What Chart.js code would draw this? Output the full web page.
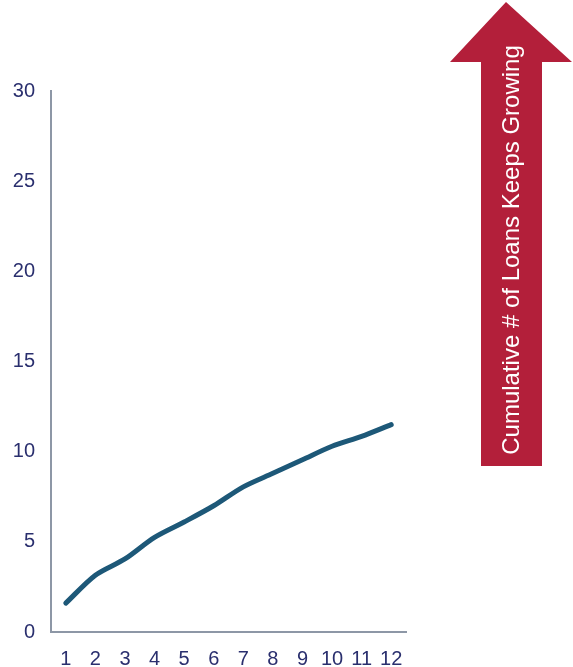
<!DOCTYPE html>
<html>
<head>
<meta charset="utf-8">
<script src="https://cdn.jsdelivr.net/npm/chart.js@4/dist/chart.umd.min.js"></script>
<style>
  html, body { margin: 0; padding: 0; background: #fff; }
  #wrap { width: 573px; height: 667px; position: relative; }
</style>
</head>
<body>
<div id="wrap"><canvas id="loansChart"></canvas></div>
<script>
// months since start and cumulative loan count
const months = ['1', '2', '3', '4', '5', '6', '7', '8', '9', '10', '11', '12'];
const cumulativeLoans = [1.6, 3.15, 4.05, 5.25, 6.1, 7.0, 8.05, 8.8, 9.55, 10.3, 10.85, 11.5];
const arrowLabel = 'Cumulative # of Loans Keeps Growing';

const navy = '#2a2f6e';
const axisGray = '#8d97a6';
const lineBlue = '#1d5878';
const arrowRed = '#b31f3a';
const fontFamily = '"Liberation Sans", Arial, sans-serif';

// big red arrow on the right with rotated caption
const arrowPlugin = {
    id: 'growthArrow',
    afterDraw(chart) {
        const ctx = chart.ctx;
        ctx.save();
        ctx.fillStyle = arrowRed;
        ctx.beginPath();
        ctx.moveTo(506, 2);
        ctx.lineTo(572, 62);
        ctx.lineTo(542, 62);
        ctx.lineTo(542, 466);
        ctx.lineTo(481, 466);
        ctx.lineTo(481, 62);
        ctx.lineTo(450, 62);
        ctx.closePath();
        ctx.fill();

        ctx.translate(512, 250);
        ctx.rotate(-Math.PI / 2);
        ctx.fillStyle = '#ffffff';
        ctx.font = '24px ' + fontFamily;
        ctx.textAlign = 'center';
        ctx.textBaseline = 'middle';
        ctx.fillText(arrowLabel, 0, 0);
        ctx.restore();
    }
};

const ctx = document.getElementById('loansChart').getContext('2d');
new Chart(ctx, {
    type: 'line',
    data: {
        labels: months,
        datasets: [{
            data: cumulativeLoans,
            borderColor: lineBlue,
            borderWidth: 5,
            borderCapStyle: 'round',
            tension: 0.3,
            pointRadius: 0,
            fill: false
        }]
    },
    options: {
        responsive: true,
        maintainAspectRatio: false,
        animation: false,
        layout: {
            padding: { top: 91, right: 167, left: 0, bottom: 0 }
        },
        plugins: {
            legend: { display: false },
            tooltip: { enabled: false }
        },
        scales: {
            x: {
                offset: true,
                grid: { display: false, drawTicks: false },
                border: { color: axisGray, width: 2 },
                ticks: {
                    color: navy,
                    padding: 15,
                    maxRotation: 0,
                    autoSkip: false,
                    font: { family: fontFamily, size: 20 }
                },
                afterFit(scale) { scale.height = 35; }
            },
            y: {
                min: 0,
                max: 30,
                grid: { display: false, drawTicks: false },
                border: { color: axisGray, width: 2 },
                ticks: {
                    stepSize: 5,
                    color: navy,
                    padding: 16,
                    font: { family: fontFamily, size: 20 }
                },
                afterFit(scale) { scale.width = 51; }
            }
        }
    },
    plugins: [arrowPlugin]
});
</script>
</body>
</html>
